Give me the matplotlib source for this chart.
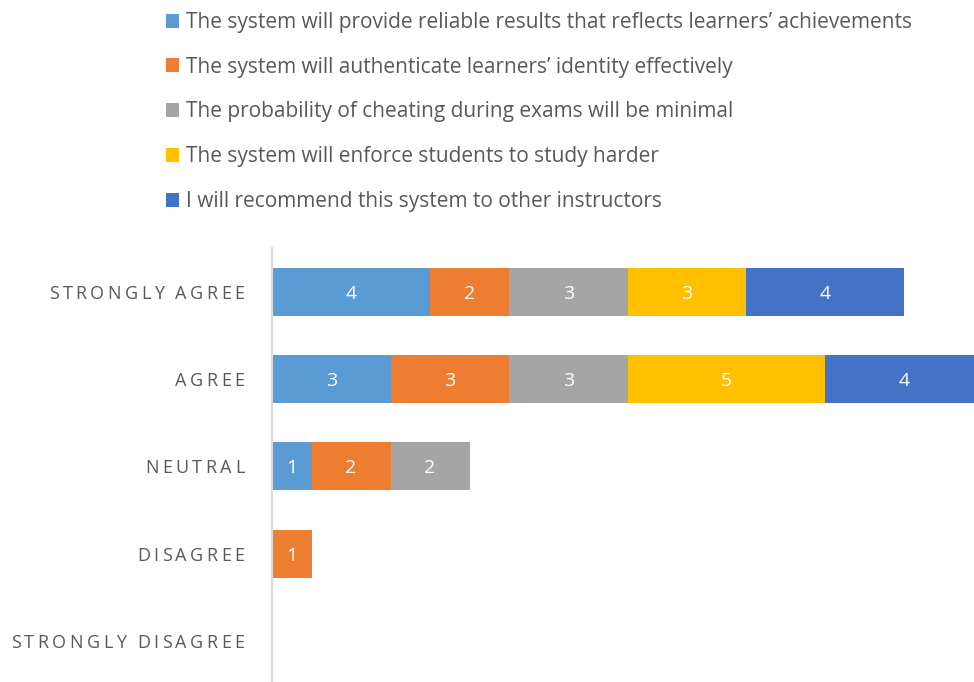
import numpy as np
import matplotlib
matplotlib.use("Agg")
import matplotlib.pyplot as plt
from matplotlib.font_manager import FontProperties
from matplotlib.textpath import text_to_path

# === DATA ===
categories = ["STRONGLY AGREE", "AGREE", "NEUTRAL", "DISAGREE", "STRONGLY DISAGREE"]
series_names = [
    "The system will provide reliable results that reflects learners\u2019 achievements",
    "The system will authenticate learners\u2019 identity effectively",
    "The probability of cheating during exams will be minimal",
    "The system will enforce students to study harder",
    "I will recommend this system to other instructors",
]
reliable = [4, 3, 1, 0, 0]
authenticate = [2, 3, 2, 1, 0]
cheating = [3, 3, 2, 0, 0]
study_harder = [3, 5, 0, 0, 0]
recommend = [4, 4, 0, 0, 0]
series_values = [reliable, authenticate, cheating, study_harder, recommend]
colors = ["#5B9BD5", "#ED7D31", "#A5A5A5", "#FFC000", "#4472C4"]

FONT = ['Open Sans', 'DejaVu Sans']
plt.rcParams['font.family'] = FONT

fig = plt.figure(figsize=(9.74, 6.82), dpi=100)
ax = fig.add_axes([272 / 974, -0.004, 1 - 272 / 974, 0.64])

y = np.arange(len(categories))
left = np.zeros(len(categories))
handles = []
for name, vals, col in zip(series_names, series_values, colors):
    vals = np.array(vals, dtype=float)
    bars = ax.barh(y, vals, left=left, height=0.55, color=col, label=name)
    handles.append(bars)
    for yi, (l, v) in enumerate(zip(left, vals)):
        if v > 0:
            ax.text(l + v / 2, yi + 0.02, str(int(v)), ha='center', va='center',
                    color='white', fontsize=14)
    left += vals

ax.set_ylim(len(categories) - 0.5, -0.5)
ax.set_xlim(0, 17.77)
ax.set_yticks(y)
ax.set_yticklabels([])
ax.tick_params(axis='y', length=0)
ax.tick_params(axis='x', length=0, labelbottom=False)
for s in ['top', 'right', 'bottom']:
    ax.spines[s].set_visible(False)
ax.spines['left'].set_color('#D9D9D9')
ax.spines['left'].set_linewidth(1.5)

# category labels with letter spacing (tracking), drawn char by char
fs = 13
track = 2.4   # points
pad = 20.0    # points from axis line to label end
fp = FontProperties(family='Open Sans', size=fs)


def text_w(s):
    w, _, _ = text_to_path.get_text_width_height_descent(s + "|", fp, ismath=False)
    w0, _, _ = text_to_path.get_text_width_height_descent("|", fp, ismath=False)
    return w - w0


for yi, cat in enumerate(categories):
    total = text_w(cat) + track * (len(cat) - 1)
    start = -pad - total
    for i, ch in enumerate(cat):
        if ch == " ":
            continue
        dx = start + text_w(cat[:i]) + track * i
        ax.annotate(ch, xy=(0, yi + 0.02), xycoords=ax.get_yaxis_transform(),
                    xytext=(dx, 0), textcoords='offset points',
                    ha='left', va='center', fontsize=fs, color='#595959',
                    annotation_clip=False)

fig.legend(handles, series_names, loc='upper left', bbox_to_anchor=(147 / 974, 1.01),
           frameon=False, fontsize=15, handlelength=0.65, handleheight=0.65,
           handletextpad=0.3, labelspacing=1.14, labelcolor='#595959')

plt.savefig("out.png", dpi=100)
